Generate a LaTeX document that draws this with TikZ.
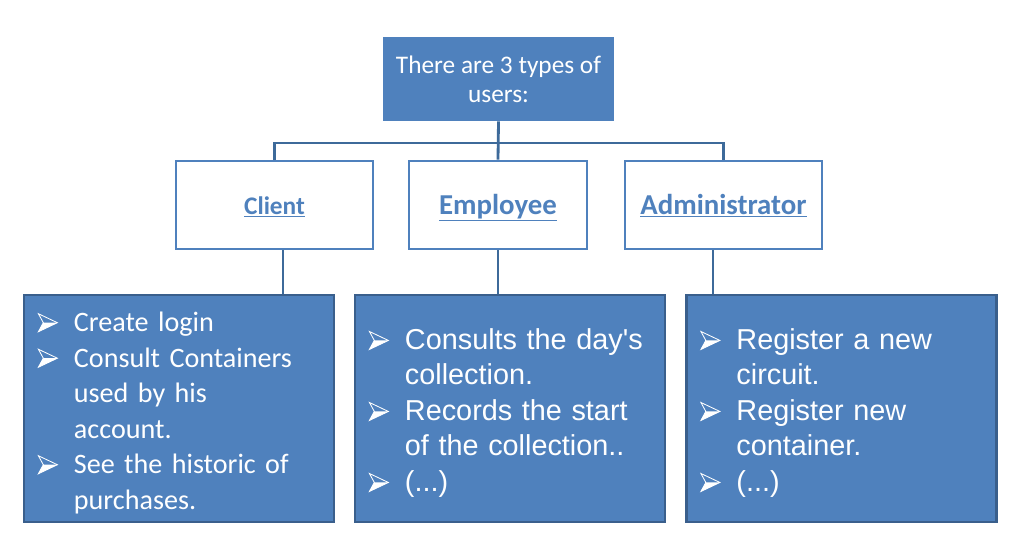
\documentclass[tikz,border=0pt]{standalone}
\usepackage{fontspec}
\setmainfont{Carlito}
\newfontfamily\arialfont{Liberation Sans}
\usetikzlibrary{positioning}
\definecolor{boxblue}{HTML}{4F81BD}
\definecolor{edgeblue}{HTML}{3A5F8C}
\definecolor{linkblue}{HTML}{3D6A9A}
\newcommand{\pointer}{\tikz[baseline=0pt,line join=miter]{%
  \fill[white] (0pt,0pt) -- (3.5pt,6.4pt) -- (13.5pt,6.4pt) -- cycle;
  \draw[white,line width=0.6pt] (0pt,0pt) -- (13.5pt,6.4pt) -- (0pt,12.8pt) -- (3.5pt,6.4pt) -- cycle;}}
\newcommand{\bitem}{\par\noindent\hangindent=25.6pt\hangafter=1\makebox[25.6pt][l]{\pointer}}
\begin{document}
\begin{tikzpicture}[x=0.025cm,y=-0.025cm]
  \tikzstyle{head}=[fill=boxblue,text=white,minimum width=5.775cm,minimum height=2.1cm,
                    align=center,inner sep=0pt,font=\fontsize{18pt}{20.6pt}\selectfont]
  \tikzstyle{role}=[draw=boxblue,fill=white,line width=2pt,minimum height=2.2cm,inner sep=0pt,
                    text height=20pt,text depth=7.2pt,
                    text=boxblue,font=\bfseries\fontsize{20.5pt}{24pt}\selectfont]
  \tikzstyle{duty}=[draw=edgeblue,fill=boxblue,line width=2pt,text=white,minimum width=7.75cm,
                    minimum height=5.675cm,text width=7.05cm,inner xsep=0.35cm,inner ysep=0pt,
                    align=left,font=\fontsize{20pt}{25.25pt}\selectfont]
  \tikzstyle{link}=[draw=linkblue,line width=2pt]
  \useasboundingbox (0,0) rectangle (1017,539);

  \node[head] (users) at (498.5,79) {There are 3 types of\\users:};

  \node[role,minimum width=4.925cm,font=\bfseries\fontsize{18pt}{22pt}\selectfont]
       (client) at (274.5,205) {\underline{Client}};
  \node[role,minimum width=4.45cm]  (employee) at (498,205)   {\underline{Employee}};
  \node[role,minimum width=4.925cm] (admin)    at (723.5,205) {\underline{Administrator}};

  \node[duty] (clientjobs) at (179,408.5) {%
    \bitem Create login
    \bitem Consult Containers\newline used by his\newline account.
    \bitem See the historic of\newline purchases.\par\vspace*{5pt}};
  \node[duty,font=\arialfont\fontsize{20.5pt}{25.25pt}\selectfont] (employeejobs) at (510,408.5) {%
    \bitem Consults the day's\newline collection.
    \bitem Records the start\newline of the collection..
    \bitem (...)\par\vspace*{4pt}};
  \node[duty,font=\arialfont\fontsize{20.5pt}{25.25pt}\selectfont] (adminjobs) at (841.5,408.5) {%
    \bitem Register a new\newline circuit.
    \bitem Register new\newline container.
    \bitem (...)\par\vspace*{4pt}};

  % tree lines
  \coordinate (bus) at (498,143);
  \draw[link] (users.south) -- (employee.north);
  \draw[link] (client.north) -- (client.north |- bus) -- (admin.north |- bus) -- (admin.north);
  \draw[link] ([xshift=0.2125cm]client.south) -- ([xshift=0.2125cm]client.south |- clientjobs.north);
  \draw[link] (employee.south) -- (employee.south |- employeejobs.north);
  \draw[link] ([xshift=-0.2625cm]admin.south) -- ([xshift=-0.2625cm]admin.south |- adminjobs.north);
\end{tikzpicture}
\end{document}
